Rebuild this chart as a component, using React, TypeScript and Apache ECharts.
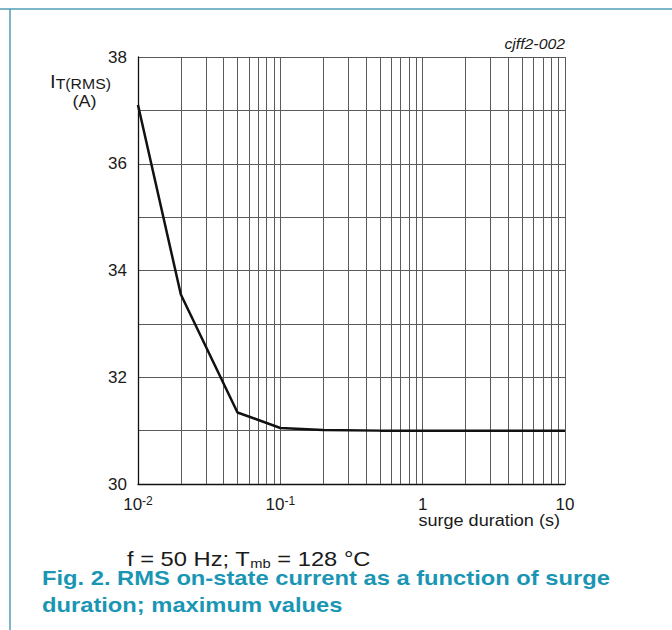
import React, { useEffect, useRef } from "react";
import * as echarts from "echarts";

// Data
const durations = [0.01, 0.02, 0.05, 0.1, 0.2, 0.5, 1, 2, 5, 10];
const currents = [37.1, 33.55, 31.34, 31.05, 31.01, 31.0, 31.0, 31.0, 31.0, 31.0];

// Minor log gridlines (2..9 in each decade)
const minorGrid = [
  0.02, 0.03, 0.04, 0.05, 0.06, 0.07, 0.08, 0.09,
  0.2, 0.3, 0.4, 0.5, 0.6, 0.7, 0.8, 0.9,
  2, 3, 4, 5, 6, 7, 8, 9,
];

const xTickLabels: Record<string, string> = {
  "-2": "{b|10}{s|-2}",
  "-1": "{b|10}{s|-1}",
  "0": "{b|1}",
  "1": "{b|10}",
};

const FONT = "'Liberation Sans', Arial, sans-serif";
const TEAL = "#1a96b4";
const BORDER = "#4f9db3";
const GRID = "#5a5a5a";
const SX = 1.13;

export default function App() {
  const ref = useRef<HTMLDivElement>(null);
  useEffect(() => {
    if (!ref.current) return;
    const chart = echarts.init(ref.current, undefined, { renderer: "svg" });
    const data = durations.map((d, i) => [d, currents[i]]);
    chart.setOption({
      animation: false,
      backgroundColor: "#ffffff",
      grid: { left: 138, top: 57, width: 427, height: 427, containLabel: false },
      xAxis: {
        type: "log",
        logBase: 10,
        min: 0.01,
        max: 10,
        splitNumber: 3,
        axisLine: { show: true, lineStyle: { color: "#111", width: 1.3 } },
        axisTick: { show: false },
        splitLine: { show: true, lineStyle: { color: GRID, width: 1 } },
        axisLabel: {
          margin: 11,
          color: "#1a1a1a",
          fontFamily: FONT,
          formatter: (v: number) => {
            const e = String(Math.round(Math.log10(v)));
            return xTickLabels[e] ?? "";
          },
          rich: {
            b: { fontSize: 17, lineHeight: 18, verticalAlign: "bottom", fontFamily: FONT, color: "#1a1a1a" },
            s: { fontSize: 12, lineHeight: 12, verticalAlign: "top", fontFamily: FONT, color: "#1a1a1a" },
          },
        },
      },
      yAxis: {
        type: "value",
        min: 30,
        max: 38,
        interval: 1,
        axisLine: { show: true, lineStyle: { color: "#111", width: 1.3 } },
        axisTick: { show: false },
        splitLine: { show: true, lineStyle: { color: GRID, width: 1 } },
        axisLabel: {
          margin: 11,
          fontSize: 17,
          color: "#1a1a1a",
          fontFamily: FONT,
          formatter: (v: number) => (Math.round(v) % 2 === 0 ? String(v) : ""),
        },
      },
      series: [
        {
          type: "line",
          data,
          z: 1,
          symbol: "none",
          silent: true,
          lineStyle: { opacity: 0 },
          markLine: {
            silent: true,
            symbol: ["none", "none"],
            label: { show: false },
            emphasis: { disabled: true },
            lineStyle: { color: GRID, width: 1, type: "solid" },
            data: minorGrid.map((v) => ({ xAxis: v })),
          },
        },
        {
          type: "line",
          data,
          z: 5,
          symbol: "none",
          silent: true,
          lineStyle: { color: "#111", width: 2.5 },
        },
      ],
      graphic: [
        { type: "line", shape: { x1: 0, y1: 9, x2: 672, y2: 9 }, style: { stroke: BORDER, lineWidth: 1.5 } },
        { type: "line", shape: { x1: 10, y1: 9, x2: 10, y2: 630 }, style: { stroke: BORDER, lineWidth: 1.5 } },
        {
          type: "text",
          x: 565,
          y: 44,
          scaleX: SX,
          style: {
            text: "cjff2-002",
            fontSize: 14,
            fontStyle: "italic",
            fontFamily: FONT,
            fill: "#1a1a1a",
            align: "right",
            verticalAlign: "middle",
          },
        },
        {
          type: "text",
          x: 50,
          y: 70.7,
          scaleX: SX,
          style: {
            text: "{i|I}{s|T(RMS)}",
            align: "left",
            verticalAlign: "top",
            rich: {
              i: { fontSize: 18, lineHeight: 20, verticalAlign: "bottom", fontFamily: FONT, fill: "#1a1a1a" },
              s: { fontSize: 14, lineHeight: 10, verticalAlign: "bottom", fontFamily: FONT, fill: "#1a1a1a" },
            },
          },
        },
        {
          type: "text",
          x: 84.5,
          y: 101.5,
          scaleX: SX,
          style: {
            text: "(A)",
            fontSize: 16,
            fontFamily: FONT,
            fill: "#1a1a1a",
            align: "center",
            verticalAlign: "middle",
          },
        },
        {
          type: "text",
          x: 560,
          y: 521,
          scaleX: SX,
          style: {
            text: "surge duration (s)",
            fontSize: 16,
            fontFamily: FONT,
            fill: "#1a1a1a",
            align: "right",
            verticalAlign: "middle",
          },
        },
        {
          type: "text",
          x: 127,
          y: 545.5,
          scaleX: SX,
          style: {
            text: "{n|f = 50 Hz; T}{s|mb}{n| = 128 °C}",
            align: "left",
            verticalAlign: "top",
            rich: {
              n: { fontSize: 21, lineHeight: 24, verticalAlign: "bottom", fontFamily: FONT, fill: "#1a1a1a" },
              s: { fontSize: 13, lineHeight: 13, verticalAlign: "bottom", fontFamily: FONT, fill: "#1a1a1a" },
            },
          },
        },
        {
          type: "text",
          x: 42,
          y: 577.5,
          scaleX: SX,
          style: {
            text: "Fig. 2. RMS on-state current as a function of surge",
            fontSize: 21,
            fontWeight: "bold",
            fontFamily: FONT,
            fill: TEAL,
            align: "left",
            verticalAlign: "middle",
          },
        },
        {
          type: "text",
          x: 42,
          y: 604.7,
          scaleX: SX,
          style: {
            text: "duration; maximum values",
            fontSize: 21,
            fontWeight: "bold",
            fontFamily: FONT,
            fill: TEAL,
            align: "left",
            verticalAlign: "middle",
          },
        },
      ],
    });
    return () => chart.dispose();
  }, []);
  return (
    <div
      ref={ref}
      style={{ position: "absolute", left: 0, top: 0, width: 672, height: 630 }}
    />
  );
}
